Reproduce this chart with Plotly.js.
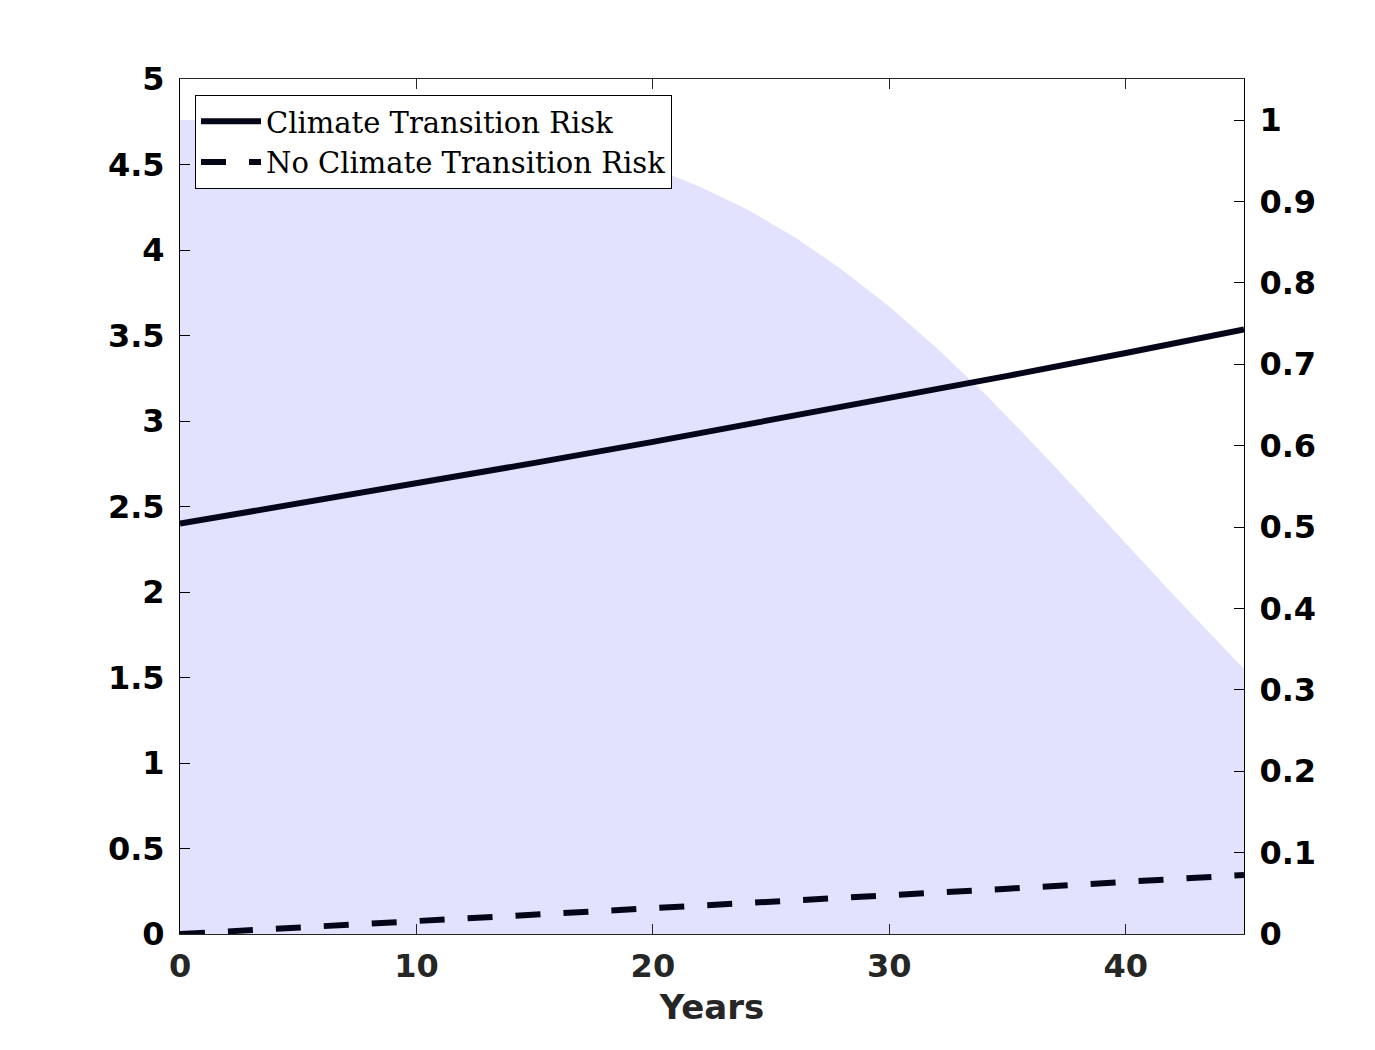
<!DOCTYPE html>
<html>
<head>
<meta charset="utf-8">
<script src="https://cdn.plot.ly/plotly-3.0.1.min.js"></script>
<style>html,body{margin:0;padding:0;background:#fff;}#chart{width:1375px;height:1050px;}</style>
</head>
<body>
<div id="chart"></div>
<script>
// Years for the two lines (left axis)
const years = [0, 5, 10, 15, 20, 25, 30, 35, 40, 45];
const climateRisk = [2.400, 2.516, 2.634, 2.755, 2.878, 3.004, 3.132, 3.264, 3.398, 3.535];
const noClimateRisk = [0.000, 0.037, 0.074, 0.111, 0.149, 0.187, 0.226, 0.265, 0.305, 0.345];

// Shaded area (right axis)
const probYears = [0, 2, 4, 6, 8, 10, 12, 14, 16, 18, 20, 22, 24, 26, 28, 30, 32, 34, 36, 38, 40, 42, 44, 45];
const probValues = [1.000, 1.000, 1.000, 0.999, 0.998, 0.995, 0.990, 0.983, 0.973, 0.959, 0.941, 0.918,
                    0.890, 0.856, 0.816, 0.771, 0.720, 0.665, 0.605, 0.543, 0.480, 0.417, 0.356, 0.326];

const leftTicks = [0, 0.5, 1, 1.5, 2, 2.5, 3, 3.5, 4, 4.5, 5];
const leftTickText = ['0', '0.5', '1', '1.5', '2', '2.5', '3', '3.5', '4', '4.5', '5'];
const rightTicks = [0, 0.1, 0.2, 0.3, 0.4, 0.5, 0.6, 0.7, 0.8, 0.9, 1];
const rightTickText = ['0', '0.1', '0.2', '0.3', '0.4', '0.5', '0.6', '0.7', '0.8', '0.9', '1'];
const xTicks = [0, 10, 20, 30, 40];

const tickFont = {family: 'DejaVu Sans', size: 32, color: '#000000', weight: 'bold'};

const traces = [
  {
    x: probYears, y: probValues, yaxis: 'y', type: 'scatter', mode: 'lines',
    fill: 'tozeroy', fillcolor: 'rgb(226,226,254)', line: {width: 0, color: 'rgba(0,0,0,0)'},
    showlegend: false, hoverinfo: 'skip'
  },
  {
    x: years, y: climateRisk, yaxis: 'y2', type: 'scatter', mode: 'lines',
    name: 'Climate Transition Risk', line: {color: '#05051a', width: 6}
  },
  {
    x: years, y: noClimateRisk, yaxis: 'y2', type: 'scatter', mode: 'lines',
    name: 'No Climate Transition Risk', line: {color: '#05051a', width: 6, dash: '25px,23px'}
  }
];

const layout = {
  width: 1375, height: 1050,
  margin: {l: 180, r: 131, t: 79, b: 116, pad: 0},
  paper_bgcolor: '#ffffff', plot_bgcolor: '#ffffff',
  showlegend: true,
  xaxis: {
    range: [0, 45], tickvals: xTicks, ticktext: xTicks.map(String),
    ticks: 'inside', ticklen: 10, tickwidth: 1, tickcolor: '#262626',
    showline: true, linecolor: '#262626', linewidth: 1, mirror: 'ticks',
    showgrid: false, zeroline: false,
    tickfont: {family: 'DejaVu Sans', size: 32, color: '#262626', weight: 'bold'},
    ticklabelstandoff: 4,
    title: {text: 'Years', font: {family: 'DejaVu Sans', size: 34, color: '#262626', weight: 'bold'}, standoff: 10}
  },
  yaxis: {
    range: [0, 1.0504], side: 'right', tickvals: rightTicks, ticktext: rightTickText,
    ticks: 'inside', ticklen: 10, tickwidth: 1, tickcolor: '#000',
    showline: true, linecolor: '#000', linewidth: 1,
    showgrid: false, zeroline: false, tickfont: tickFont, ticklabelstandoff: 8
  },
  yaxis2: {
    range: [0, 5], side: 'left', overlaying: 'y', tickvals: leftTicks, ticktext: leftTickText,
    ticks: 'inside', ticklen: 10, tickwidth: 1, tickcolor: '#000',
    showline: true, linecolor: '#000', linewidth: 1,
    showgrid: false, zeroline: false, tickfont: tickFont, ticklabelstandoff: 8
  },
  legend: {
    x: 0.0141, y: 0.9813, xanchor: 'left', yanchor: 'top',
    bgcolor: '#ffffff', bordercolor: '#000', borderwidth: 1,
    font: {family: 'DejaVu Serif', size: 29, color: '#000'},
    itemwidth: 60, tracegroupgap: 0
  }
};

Plotly.newPlot('chart', traces, layout, {displayModeBar: false, staticPlot: true});
</script>
</body>
</html>
